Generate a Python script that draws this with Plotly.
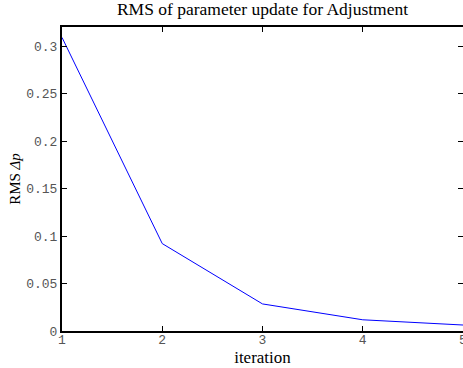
import plotly.graph_objects as go

# RMS of the parameter update at each adjustment iteration
iterations = [1, 2, 3, 4, 5]
rms_dp = [0.309, 0.092, 0.0285, 0.0118, 0.0063]

x_ticks = [1, 2, 3, 4, 5]
y_ticks = [0, 0.05, 0.1, 0.15, 0.2, 0.25, 0.3]
y_tick_text = ["0", "0.05", "0.1", "0.15", "0.2", "0.25", "0.3"]

serif = "Liberation Serif, DejaVu Serif, serif"
mono = "Liberation Mono, DejaVu Sans Mono, monospace"

fig = go.Figure(
    go.Scatter(
        x=iterations,
        y=rms_dp,
        mode="lines",
        line=dict(color="#0000ff", width=1),
        showlegend=False,
        hoverinfo="skip",
    )
)

axis_common = dict(
    showline=True,
    linecolor="black",
    linewidth=2,
    mirror="ticks",
    ticks="inside",
    ticklen=5,
    tickwidth=1,
    tickcolor="black",
    showgrid=False,
    zeroline=False,
    automargin=False,
    ticklabeloverflow="allow",
    tickfont=dict(family=mono, size=13, color="#555555"),
)

fig.update_layout(
    width=463,
    height=368,
    margin=dict(l=62, r=0, t=27, b=37, autoexpand=False),
    paper_bgcolor="white",
    plot_bgcolor="white",
    title=dict(
        text="RMS of parameter update for Adjustment",
        x=0.5,
        xanchor="center",
        xref="paper",
        y=1,
        yref="container",
        yanchor="top",
        pad=dict(t=3),
        font=dict(family=serif, size=17.5, color="black"),
    ),
    xaxis=dict(
        range=[1, 5],
        tickvals=x_ticks,
        ticktext=[str(v) for v in x_ticks],
        ticklabelstandoff=-5,
        title=dict(text="iteration", font=dict(family=serif, size=17, color="black"), standoff=0),
        **axis_common,
    ),
    yaxis=dict(
        range=[0, 0.32],
        tickvals=y_ticks,
        ticktext=y_tick_text,
        title=dict(text="RMS <i>Δp</i>", font=dict(family=serif, size=15, color="black"), standoff=2),
        **axis_common,
    ),
)

fig.write_html("out.html")
